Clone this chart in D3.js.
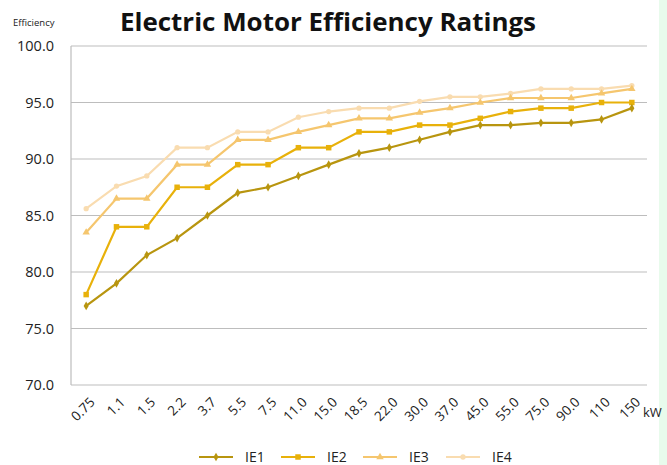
<!DOCTYPE html>
<html><head><meta charset="utf-8">
<script src="https://cdn.jsdelivr.net/npm/d3@7/dist/d3.min.js"></script>
<style>body{margin:0;background:#fff}svg{display:block}</style>
</head><body><svg id="c" width="667" height="465"></svg>
<script>
const categories = ["0.75","1.1","1.5","2.2","3.7","5.5","7.5","11.0","15.0","18.5","22.0","30.0","37.0","45.0","55.0","75.0","90.0","110","150"];
const ie1 = [77.0,79.0,81.5,83.0,85.0,87.0,87.5,88.5,89.5,90.5,91.0,91.7,92.4,93.0,93.0,93.2,93.2,93.5,94.5];
const ie2 = [78.0,84.0,84.0,87.5,87.5,89.5,89.5,91.0,91.0,92.4,92.4,93.0,93.0,93.6,94.2,94.5,94.5,95.0,95.0];
const ie3 = [83.5,86.5,86.5,89.5,89.5,91.7,91.7,92.4,93.0,93.6,93.6,94.1,94.5,95.0,95.4,95.4,95.4,95.8,96.2];
const ie4 = [85.6,87.6,88.5,91.0,91.0,92.4,92.4,93.7,94.2,94.5,94.5,95.1,95.5,95.5,95.8,96.2,96.2,96.2,96.5];
const seriesNames = ["IE1","IE2","IE3","IE4"];
const yTicks = [70,75,80,85,90,95,100];

const colors = ["#b8950f","#e8b10a","#f5c66e","#f9dcb0"];
const symbols = [d3.symbolDiamond, d3.symbolSquare, d3.symbolTriangle, d3.symbolCircle];
const symSizes = [22, 30, 24, 22];
const data = [ie1, ie2, ie3, ie4];

const svg = d3.select("#c");
const font = "'Open Sans', 'Liberation Sans', sans-serif";
// right edge tint
svg.append("rect").attr("x",659).attr("y",0).attr("width",8).attr("height",465).attr("fill","#e8fbec");

const L = 71, R = 647, T = 46, B = 385;
const x = d3.scalePoint().domain(categories).range([L, R]).padding(0.5);
const y = d3.scaleLinear().domain([70,100]).range([B, T]);

// gridlines
svg.append("g").selectAll("line").data(yTicks).join("line")
  .attr("x1", L).attr("x2", R).attr("y1", d=>y(d)).attr("y2", d=>y(d))
  .attr("stroke","#bdbdbd").attr("stroke-width",1.2);
// left axis line
svg.append("line").attr("x1",L).attr("x2",L).attr("y1",T).attr("y2",B).attr("stroke","#bdbdbd").attr("stroke-width",1.2);

// y labels
const yAxis = d3.axisLeft(y).tickValues(yTicks).tickFormat(d3.format(".1f")).tickSize(0).tickPadding(17);
const yg = svg.append("g").attr("transform",`translate(${L},0)`).call(yAxis);
yg.select(".domain").remove();
yg.selectAll("text").attr("font-family",font).attr("font-size",14.5).attr("fill","#222");

// x labels
const xAxis = d3.axisBottom(x).tickSize(0).tickPadding(0);
const xg = svg.append("g").attr("transform",`translate(0,${B})`).call(xAxis);
xg.select(".domain").remove();
xg.selectAll("text").attr("font-family",font).attr("font-size",13.5).attr("fill","#222")
  .attr("text-anchor","end").attr("dy",0)
  .attr("transform","translate(9,18) rotate(-45)");

svg.append("text").attr("x",643).attr("y",417).attr("font-family",font).attr("font-size",13).attr("fill","#222").text("kW");

// lines
const line = d3.line().x((d,i)=>x(categories[i])).y(d=>y(d));
for (let s = 3; s >= 0; s--) {
  svg.append("path").datum(data[s]).attr("d", line).attr("fill","none")
    .attr("stroke", colors[s]).attr("stroke-width", 2.2);
  svg.append("g").selectAll("path").data(data[s]).join("path")
    .attr("d", d3.symbol().type(symbols[s]).size(symSizes[s]))
    .attr("transform",(d,i)=>`translate(${x(categories[i])},${y(d)})`)
    .attr("fill", colors[s]);
}

// title
svg.append("text").attr("x",328).attr("y",31).attr("text-anchor","middle")
  .attr("font-family",font).attr("font-weight","bold").attr("font-size",25.5).attr("fill","#111")
  .attr("textLength",416).attr("lengthAdjust","spacingAndGlyphs")
  .text("Electric Motor Efficiency Ratings");
svg.append("text").attr("x",13).attr("y",26).attr("font-family",font).attr("font-size",9.5).attr("fill","#222").text("Efficiency");

// legend
const legX = [199, 281, 363, 446];
const lg = svg.append("g");
seriesNames.forEach((n,i)=>{
  const g = lg.append("g").attr("transform",`translate(${legX[i]},457)`);
  g.append("line").attr("x1",0).attr("x2",34).attr("y1",0).attr("y2",0).attr("stroke",colors[i]).attr("stroke-width",2.2);
  g.append("path").attr("d", d3.symbol().type(symbols[i]).size(symSizes[i])).attr("transform","translate(17,0)").attr("fill",colors[i]);
  g.append("text").attr("x",46).attr("y",5).attr("font-family",font).attr("font-size",14).attr("fill","#222").text(n);
});
</script></body></html>
